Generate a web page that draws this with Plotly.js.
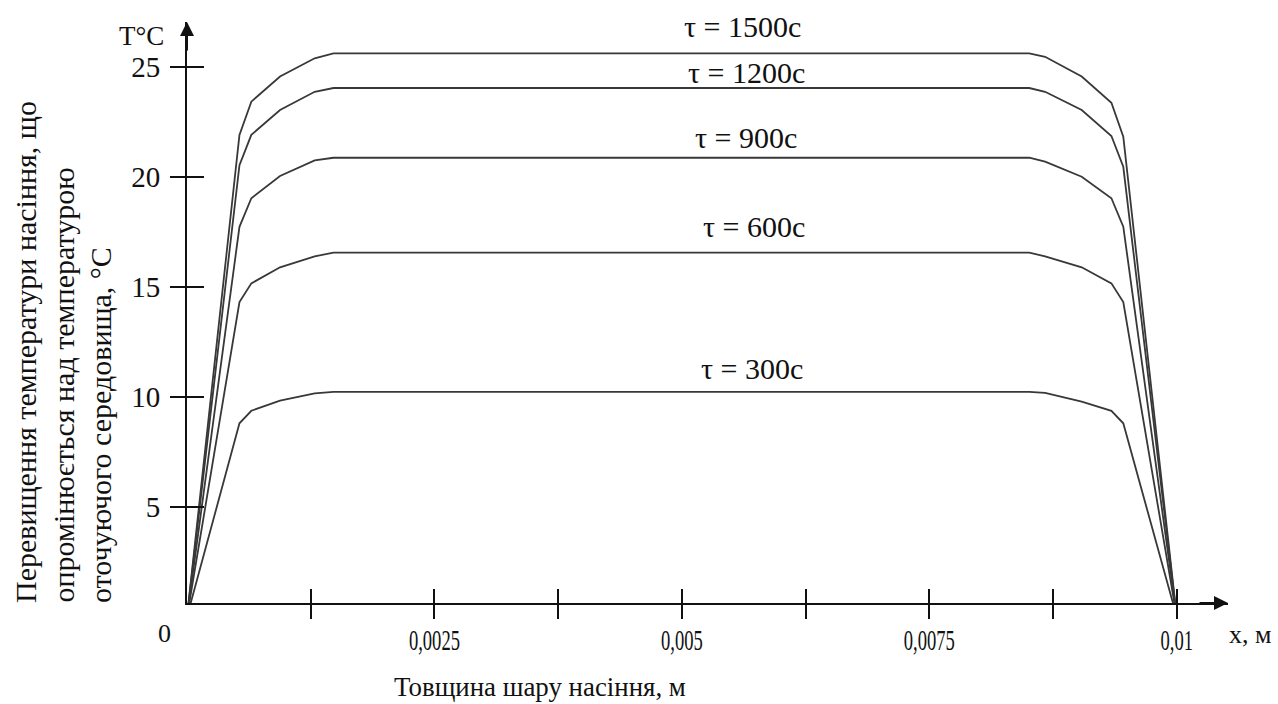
<!DOCTYPE html>
<html>
<head>
<meta charset="utf-8">
<script src="https://cdn.plot.ly/plotly-3.0.1.min.js"></script>
<style>
  html, body { margin: 0; padding: 0; background: #fff; }
  #chart { width: 1278px; height: 704px; }
</style>
</head>
<body>
<div id="chart"></div>
<script>
// ---- data ----
const xNodes = [0, 0.00053, 0.00065, 0.00094, 0.00129, 0.00148, 0.005, 0.00851, 0.00867, 0.00904, 0.00934, 0.00946, 0.01];
const t300  = [0, 8.79, 9.36, 9.82, 10.15, 10.22, 10.22, 10.22, 10.17, 9.78, 9.36, 8.79, 0];
const t600  = [0, 14.3, 15.15, 15.88, 16.38, 16.55, 16.55, 16.55, 16.38, 15.88, 15.15, 14.3, 0];
const t900  = [0, 17.72, 19.02, 20.03, 20.74, 20.86, 20.86, 20.86, 20.68, 20.0, 19.02, 17.73, 0];
const t1200 = [0, 20.52, 21.9, 23.03, 23.86, 24.03, 24.03, 24.03, 23.86, 23.03, 21.85, 20.45, 0];
const t1500 = [0, 21.9, 23.41, 24.55, 25.38, 25.6, 25.6, 25.6, 25.45, 24.55, 23.36, 21.82, 0];
const seriesValues = [t300, t600, t900, t1200, t1500];
const seriesLabels = ['τ = 300с', 'τ = 600с', 'τ = 900с', 'τ = 1200с', 'τ = 1500с'];

const xTickVals = [0.00125, 0.0025, 0.00375, 0.005, 0.00625, 0.0075, 0.00875, 0.01];
const xTickText = ['', '0,0025', '', '0,005', '', '0,0075', '', '0,01'];
const yTickVals = [5, 10, 15, 20, 25];
const yTickText = ['5', '10', '15', '20', '25'];

const yTitleLines = ['Перевищення температури насіння, що', 'опромінюється над температурою', 'оточуючого середовища, °C'];
const xTitle = 'Товщина шару насіння, м';

// ---- geometry ----
const M = {l: 187, r: 50, t: 22, b: 101};
const W = 1278 - M.l - M.r, H = 704 - M.t - M.b;
const px = x => (x - M.l) / W;
const py = y => (M.t + H - y) / H;
const FONT = 'Liberation Serif';
const INK = '#111';

// the two hotter series sit on an overlaid axis pair (same ranges) so that its
// inside ticks are drawn too, giving tick marks that cross the axis lines
const traces = seriesValues.map((v, i) => ({
  x: xNodes, y: v, type: 'scatter', mode: 'lines',
  xaxis: i < 3 ? 'x' : 'x2', yaxis: i < 3 ? 'y' : 'y2',
  line: {color: '#383838', width: 1.8}, name: seriesLabels[i], hoverinfo: 'skip'
}));

const labelPos = [[752, 368], [754, 227], [746, 137], [746, 72], [742, 27]];
const annotations = seriesLabels.map((t, i) => ({
  xref: 'paper', yref: 'paper', x: px(labelPos[i][0]), y: py(labelPos[i][1]),
  xanchor: 'center', yanchor: 'middle', showarrow: false, text: t,
  font: {family: FONT, size: 30, color: INK}
}));

const yTitleX = [25, 63, 100];
yTitleLines.forEach((t, i) => annotations.push({
  xref: 'paper', yref: 'paper', x: px(yTitleX[i]), y: py(605),
  xanchor: 'center', yanchor: 'bottom', showarrow: false, textangle: -90, text: t,
  font: {family: FONT, size: 30, color: INK}
}));

annotations.push(
  {xref: 'paper', yref: 'paper', x: px(540), y: py(686), xanchor: 'center', yanchor: 'middle',
   showarrow: false, text: xTitle, font: {family: FONT, size: 28, color: INK}},
  {xref: 'paper', yref: 'paper', x: px(141), y: py(36), xanchor: 'center', yanchor: 'middle',
   showarrow: false, text: 'T°C', font: {family: FONT, size: 27, color: INK}},
  {xref: 'paper', yref: 'paper', x: px(164), y: py(633), xanchor: 'center', yanchor: 'middle',
   showarrow: false, text: '0', font: {family: FONT, size: 26, color: INK}},
  {xref: 'paper', yref: 'paper', x: px(1250), y: py(634), xanchor: 'center', yanchor: 'middle',
   showarrow: false, text: 'x, м', font: {family: FONT, size: 26, color: INK}},
  // axis arrowheads
  {xref: 'paper', yref: 'paper', x: 0, y: 1, ax: 0, ay: 30, text: '', showarrow: true,
   arrowhead: 2, arrowsize: 1.4, arrowwidth: 2, arrowcolor: INK, standoff: 0},
  {xref: 'paper', yref: 'paper', x: 1, y: 0, ax: -30, ay: 0, text: '', showarrow: true,
   arrowhead: 2, arrowsize: 1.4, arrowwidth: 2, arrowcolor: INK, standoff: 0}
);

const xRange = [0, 0.010518];
const yRange = [0.623, 27.03];

const layout = {
  width: 1278, height: 704, margin: M,
  paper_bgcolor: '#fff', plot_bgcolor: '#fff', showlegend: false,
  font: {family: FONT, color: INK},
  xaxis: {
    range: xRange, showgrid: false, zeroline: false, showline: true, linecolor: INK, linewidth: 2,
    ticks: 'outside', ticklen: 14, tickwidth: 2, tickcolor: INK,
    tickmode: 'array', tickvals: xTickVals, ticktext: xTickText,
    tickfont: {family: FONT, size: 30, color: INK}, ticklabelstandoff: 0
  },
  xaxis2: {
    overlaying: 'x', anchor: 'y2', side: 'bottom', range: xRange, showgrid: false, zeroline: false,
    showline: false, ticks: 'inside', ticklen: 14, tickwidth: 2, tickcolor: INK,
    tickmode: 'array', tickvals: xTickVals, showticklabels: false
  },
  yaxis: {
    range: yRange, showgrid: false, zeroline: false, showline: true, linecolor: INK, linewidth: 2,
    ticks: 'outside', ticklen: 15, tickwidth: 2, tickcolor: INK,
    tickmode: 'array', tickvals: yTickVals, ticktext: yTickText,
    tickfont: {family: FONT, size: 29, color: INK}, ticklabelstandoff: 4
  },
  yaxis2: {
    overlaying: 'y', anchor: 'x2', side: 'left', range: yRange, showgrid: false, zeroline: false,
    showline: false, ticks: 'inside', ticklen: 17, tickwidth: 2, tickcolor: INK,
    tickmode: 'array', tickvals: yTickVals, showticklabels: false
  },
  annotations: annotations
};

// the reference's horizontal axis texts are set in a narrow face: condense them
function condense(el, sx, dy) {
  const b = el.getBBox();
  const cx = b.x + b.width / 2, cy = b.y + b.height / 2;
  const t = el.getAttribute('transform') || '';
  el.setAttribute('transform', t + ' translate(' + cx + ',' + (cy + dy) + ') scale(' + sx + ',1) translate(' + (-cx) + ',' + (-cy) + ')');
}

Plotly.newPlot('chart', traces, layout, {staticPlot: true, displayModeBar: false}).then(gd => {
  gd.querySelectorAll('.xaxislayer-above .xtick text').forEach(el => condense(el, 0.62, -5));
  gd.querySelectorAll('text.annotation-text').forEach(el => {
    if (el.textContent === xTitle) condense(el, 0.96, 0);
  });
});
</script>
</body>
</html>
